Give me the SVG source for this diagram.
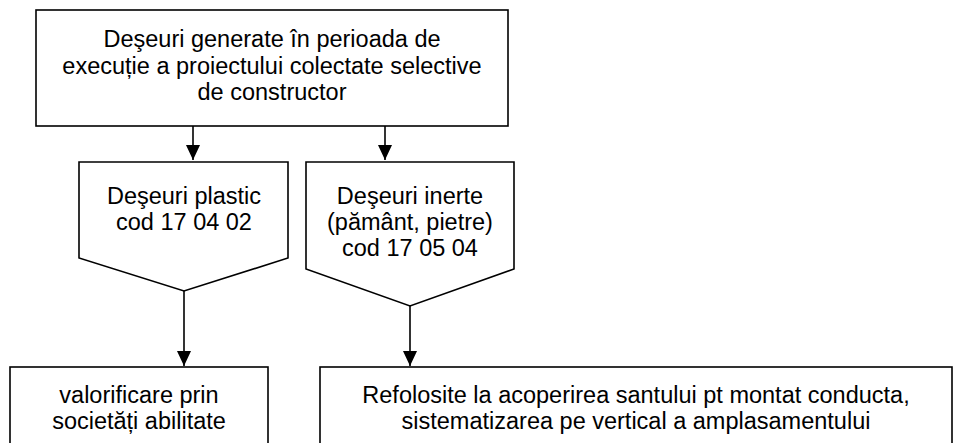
<svg xmlns="http://www.w3.org/2000/svg" width="954" height="443" viewBox="0 0 954 443">
<defs>
<style>
.box{fill:#fff;stroke:#000;stroke-width:1.6}
.ln{fill:none;stroke:#000;stroke-width:1.6}
text{font-family:"Liberation Sans",Arial,sans-serif;font-size:23.5px;fill:#000;text-anchor:middle}
</style>
<marker id="ah" markerUnits="userSpaceOnUse" markerWidth="16" markerHeight="16" viewBox="0 0 16 16" refX="15" refY="8" orient="auto">
<path d="M0,1 L15,8 L0,15 Z" fill="#000"/>
</marker>
</defs>
<rect width="954" height="443" fill="#fff"/>
<g id="connectors">
<line class="ln" x1="193" y1="126" x2="193" y2="160" marker-end="url(#ah)"/>
<line class="ln" x1="385" y1="126" x2="385" y2="160" marker-end="url(#ah)"/>
<line class="ln" x1="184" y1="291" x2="184" y2="366" marker-end="url(#ah)"/>
<line class="ln" x1="410" y1="306" x2="410" y2="366" marker-end="url(#ah)"/>
</g>
<g id="top">
<rect class="box" x="36" y="10" width="472" height="116"/>
<text x="272" y="47">Deşeuri generate în perioada de</text>
<text x="272" y="74">execuție a proiectului colectate selective</text>
<text x="272" y="100">de constructor</text>
</g>
<g id="plastic">
<polygon class="box" points="79,162 288,162 288,258 184,291 79,258"/>
<text x="184" y="204">Deşeuri plastic</text>
<text x="184" y="230">cod 17 04 02</text>
</g>
<g id="inerte">
<polygon class="box" points="306,162 514,162 514,269 410,306 306,269"/>
<text x="410" y="204">Deşeuri inerte</text>
<text x="410" y="230">(pământ, pietre)</text>
<text x="410" y="256">cod 17 05 04</text>
</g>
<g id="valorificare">
<rect class="box" x="10" y="367" width="258" height="90"/>
<text x="139" y="403">valorificare prin</text>
<text x="139" y="429">societăți abilitate</text>
</g>
<g id="refolosite">
<rect class="box" x="320" y="367" width="632" height="90"/>
<text x="636" y="403">Refolosite la acoperirea santului pt montat conducta,</text>
<text x="636" y="429">sistematizarea pe vertical a amplasamentului</text>
</g>
</svg>
